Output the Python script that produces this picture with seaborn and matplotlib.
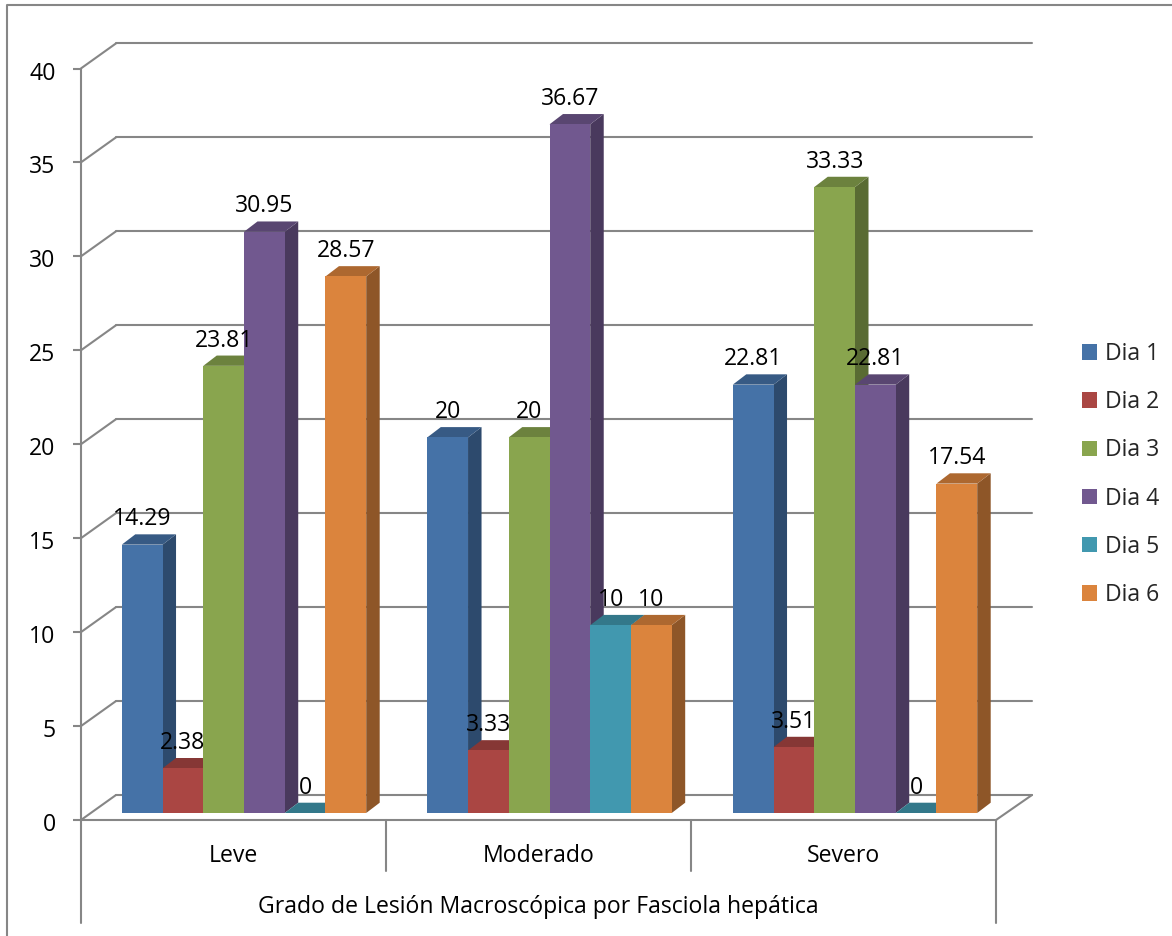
import pandas as pd
import matplotlib
matplotlib.use("Agg")
import matplotlib.pyplot as plt
import seaborn as sns
from matplotlib.colors import to_rgb
from matplotlib.lines import Line2D
from matplotlib.patches import Polygon
from matplotlib.transforms import Affine2D

grados = ["Leve", "Moderado", "Severo"]
dias = ["Dia 1", "Dia 2", "Dia 3", "Dia 4", "Dia 5", "Dia 6"]
dia_1 = [14.29, 20, 22.81]
dia_2 = [2.38, 3.33, 3.51]
dia_3 = [23.81, 20, 33.33]
dia_4 = [30.95, 36.67, 22.81]
dia_5 = [0, 10, 0]
dia_6 = [28.57, 10, 17.54]
colores = ["#4572A7", "#AA4643", "#89A54E", "#71588F", "#4198AF", "#DB843D"]
y_ticks = [0, 5, 10, 15, 20, 25, 30, 35, 40]
titulo_x = "Grado de Lesión Macroscópica por Fasciola hepática"

W, H = 1172, 936
GRIS = "#868686"
LW = 1.5
LETRA = 16.6

df = pd.DataFrame({"Grado": grados * 6,
                   "Dia": [d for d in dias for _ in grados],
                   "Valor": dia_1 + dia_2 + dia_3 + dia_4 + dia_5 + dia_6})

sns.set_theme(style="white")
plt.rcParams["font.family"] = ["Open Sans", "DejaVu Sans"]
plt.rcParams["font.size"] = LETRA


def caja(izq, arriba, der, abajo):
    # posicion de un eje a partir de pixeles de la imagen
    return [izq / W, 1 - abajo / H, (der - izq) / W, (abajo - arriba) / H]


fig = plt.figure(figsize=(W / 100, H / 100), dpi=100, facecolor="white")

# pared del fondo, solo las lineas de la rejilla
ax_fondo = fig.add_axes(caja(116, 43, 1032, 795), zorder=1)
ax_fondo.set_ylim(0, 40)
ax_fondo.set_yticks(y_ticks)
ax_fondo.set_xticks([])
ax_fondo.tick_params(left=False, labelleft=False)
ax_fondo.grid(axis="y", color=GRIS, lw=LW)
ax_fondo.patch.set_alpha(0)
for s in ax_fondo.spines.values():
    s.set_visible(False)
for ln in ax_fondo.get_ygridlines():
    ln.set_clip_on(False)

# plano frontal con los ejes
ax_frente = fig.add_axes(caja(81, 68.5, 996, 820), zorder=2)
ax_frente.set_xlim(-0.5, 2.5)
ax_frente.set_ylim(0, 40)
ax_frente.set_yticks(y_ticks)
ax_frente.set_xticks(range(3), grados)
ax_frente.tick_params(axis="y", length=5.8, width=LW, color=GRIS, pad=12.5,
                      labelsize=LETRA, labelcolor="black", left=True)
ax_frente.tick_params(axis="x", length=0, pad=17, labelsize=LETRA, labelcolor="black")
ax_frente.set_xlabel(titulo_x, fontsize=LETRA, color="black", labelpad=20)
ax_frente.patch.set_alpha(0)
sns.despine(ax=ax_frente)
for lado in ["left", "bottom"]:
    ax_frente.spines[lado].set_color(GRIS)
    ax_frente.spines[lado].set_linewidth(LW)
for x, fin in [(-0.5, -5.5), (0.5, -2.72), (1.5, -2.72), (2.5, -5.5)]:
    ax_frente.plot([x, x], [0, fin], color=GRIS, lw=LW, clip_on=False)
# los numeros del eje y quedan un poco por debajo de su marca
bajar = Affine2D().translate(0, -2)
for t in ax_frente.get_yticklabels():
    t.set_transform(t.get_transform() + bajar)

# lineas de las paredes laterales y del suelo, en pixeles
en_pixeles = Affine2D().scale(1, -1).translate(0, H)
for v in y_ticks:
    fig.add_artist(Line2D([81, 116], [820 - v * 18.79, 795 - v * 18.79], color=GRIS,
                          lw=LW, transform=en_pixeles, zorder=0.5))
fig.add_artist(Line2D([996, 1032], [820, 795], color=GRIS, lw=LW,
                      transform=en_pixeles, zorder=0.5))

# marco del grafico
fig.add_artist(Line2D([6.5, 6.5, W], [H, 5, 5], color=GRIS, lw=LW,
                      transform=en_pixeles, zorder=0.5))

# barras
ax = fig.add_axes(caja(91.25, 61.8, 1007.75, 813), zorder=3)
sns.barplot(data=df, x="Grado", y="Valor", hue="Dia", palette=colores, saturation=1,
            width=0.8, gap=0, order=grados, hue_order=dias, linewidth=0, ax=ax)
ax.set_xlim(-0.5, 2.5)
ax.set_ylim(0, 40)

dx = 13.5 / 305.5
dy = 10.3 / 18.78


def oscuro(color, f):
    return tuple(c * f for c in to_rgb(color))


for i, cont in enumerate(ax.containers):
    for bar in cont:
        x0, x1 = bar.get_x(), bar.get_x() + bar.get_width()
        y1 = bar.get_height()
        z = 10 + 3 * i
        bar.set_zorder(z + 2)
        ax.add_patch(Polygon([(x1, 0), (x1 + dx, dy), (x1 + dx, y1 + dy), (x1, y1)],
                             closed=True, fc=oscuro(colores[i], 0.65), lw=0, zorder=z,
                             clip_on=False))
        ax.add_patch(Polygon([(x0, y1), (x0 + dx, y1 + dy), (x1 + dx, y1 + dy), (x1, y1)],
                             closed=True, fc=oscuro(colores[i], 0.79), lw=0, zorder=z + 1,
                             clip_on=False))
    for t in ax.bar_label(cont, fmt="%g", padding=9.6, fontsize=LETRA, color="black"):
        t.set_zorder(60)

sns.move_legend(ax, "center left", bbox_to_anchor=(1082 / W, 1 - 474.5 / H),
                bbox_transform=fig.transFigure, frameon=False, title=None, fontsize=LETRA,
                borderpad=0, borderaxespad=0, handlelength=0.65, handleheight=0.65,
                handletextpad=0.35, labelspacing=1.05)
ax.axis("off")

fig.savefig("out.png", dpi=100)
